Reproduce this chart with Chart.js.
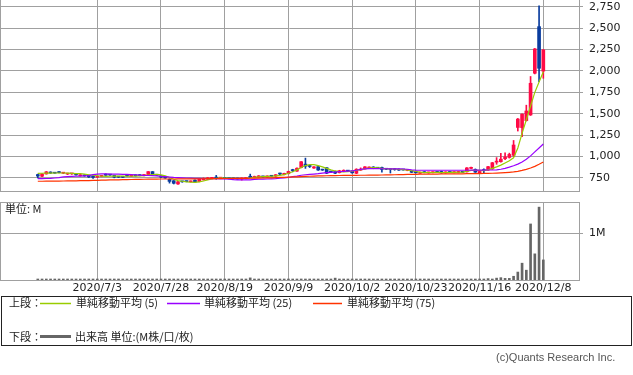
<!DOCTYPE html>
<html><head><meta charset="utf-8">
<script src="https://cdn.jsdelivr.net/npm/chart.js@4/dist/chart.umd.min.js"></script>
<style>
body{margin:0;background:#fff;width:633px;height:375px;position:relative;overflow:hidden;font-family:"Noto Sans CJK JP",sans-serif;}
canvas{position:absolute;left:0;}
#price{top:0;}
#vol{top:196px;}
.t{position:absolute;font-size:11px;color:#222;white-space:nowrap;line-height:11px;}
#legend{position:absolute;left:1px;top:296px;width:629px;height:48px;border:1px solid #222;}
</style></head><body>
<canvas id="price" width="633" height="192"></canvas>
<canvas id="vol" width="633" height="104"></canvas>
<div class="t" style="left:5px;top:203px">単位: M</div>
<div id="legend"></div>
<svg width="633" height="375" style="position:absolute;left:0;top:0">
<line x1="40" y1="303.5" x2="71" y2="303.5" stroke="#99cc00" stroke-width="1.5"/>
<line x1="167" y1="303.5" x2="200" y2="303.5" stroke="#9900ff" stroke-width="1.5"/>
<line x1="313" y1="303.5" x2="342" y2="303.5" stroke="#ff3300" stroke-width="1.5"/>
<line x1="40" y1="336.5" x2="71" y2="336.5" stroke="#666666" stroke-width="3"/>
</svg>
<div class="t" style="left:9px;top:297px">上段：</div>
<div class="t" style="left:76px;top:297px">単純移動平均 (5)</div>
<div class="t" style="left:204px;top:297px">単純移動平均 (25)</div>
<div class="t" style="left:347px;top:297px">単純移動平均 (75)</div>
<div class="t" style="left:9px;top:331px">下段：</div>
<div class="t" style="left:75px;top:331px">出来高 単位:(M株/口/枚)</div>
<div class="t" style="left:496px;top:352px;font-family:'Liberation Sans',sans-serif;color:#555">(c)Quants Research Inc.</div>
<script>
const dates = ['2020/6/15','2020/6/16','2020/6/17','2020/6/18','2020/6/19','2020/6/22','2020/6/23','2020/6/24','2020/6/25','2020/6/26',
'2020/6/29','2020/6/30','2020/7/1','2020/7/2','2020/7/3','2020/7/6','2020/7/7','2020/7/8','2020/7/9','2020/7/10',
'2020/7/13','2020/7/14','2020/7/15','2020/7/16','2020/7/17','2020/7/20','2020/7/21','2020/7/22','2020/7/27','2020/7/28',
'2020/7/29','2020/7/30','2020/7/31','2020/8/3','2020/8/4','2020/8/5','2020/8/6','2020/8/7','2020/8/11','2020/8/12',
'2020/8/13','2020/8/14','2020/8/17','2020/8/18','2020/8/19','2020/8/20','2020/8/21','2020/8/24','2020/8/25','2020/8/26',
'2020/8/27','2020/8/28','2020/8/31','2020/9/1','2020/9/2','2020/9/3','2020/9/4','2020/9/7','2020/9/8','2020/9/9',
'2020/9/10','2020/9/11','2020/9/14','2020/9/15','2020/9/16','2020/9/17','2020/9/18','2020/9/23','2020/9/24','2020/9/25',
'2020/9/28','2020/9/29','2020/9/30','2020/10/1','2020/10/2','2020/10/5','2020/10/6','2020/10/7','2020/10/8','2020/10/9',
'2020/10/12','2020/10/13','2020/10/14','2020/10/15','2020/10/16','2020/10/19','2020/10/20','2020/10/21','2020/10/22','2020/10/23',
'2020/10/26','2020/10/27','2020/10/28','2020/10/29','2020/10/30','2020/11/2','2020/11/4','2020/11/5','2020/11/6','2020/11/9',
'2020/11/10','2020/11/11','2020/11/12','2020/11/13','2020/11/16','2020/11/17','2020/11/18','2020/11/19','2020/11/20','2020/11/24',
'2020/11/25','2020/11/26','2020/11/27','2020/11/30','2020/12/1','2020/12/2','2020/12/3','2020/12/4','2020/12/7','2020/12/8'];
const tickDates = ['2020/7/3','2020/7/28','2020/8/19','2020/9/9','2020/10/2','2020/10/23','2020/11/16','2020/12/8'];
const priceTicks = [750,1000,1250,1500,1750,2000,2250,2500,2750];
const volTicks = [1];

const opens = [790,770,797,812,812,824,806,796,798,797, 776,785,780,770,760,768,795,790,780,765,
762,785,770,785,787,778,790,824,790,775, 765,735,718,680,710,712,705,725,708,728,
735,745,752,748,750,748,745,744,738,742, 770,755,760,770,762,775,772,800,790,800,
840,830,872,912,892,866,882,848,870,825, 826,812,826,835,832,805,842,856,866,878,
870,872,858,856,852,852,848,838,836,826, 806,820,810,812,820,826,810,820,812,814,
822,822,862,850,812,848,843,856,935,940, 975,990,1015,1340,1338,1420,1486,1973,2517,1998];
const highs = [795,800,826,822,815,826,812,805,803,800, 790,788,784,774,770,780,798,793,782,768,
766,788,782,787,790,790,826,826,792,778, 767,740,720,710,712,714,716,727,740,752,
756,758,780,755,752,750,750,748,752,756, 795,772,778,772,775,780,790,808,806,830,
852,868,942,982,900,884,885,852,873,828, 830,840,845,838,836,858,868,884,880,882,
874,876,862,862,860,856,852,848,840,830, 820,824,818,822,824,830,822,824,824,826,
826,872,878,856,830,856,885,932,988,1038, 1045,1040,1188,1445,1500,1600,1935,2262,2760,2250];
const lows = [750,765,795,800,805,808,800,790,792,783, 772,770,755,745,755,764,780,780,752,755,
754,770,768,772,775,775,788,788,778,755, 745,690,680,676,700,705,702,700,705,725,
730,740,735,744,740,738,736,735,725,738, 755,752,755,760,758,768,768,790,786,796,
822,826,868,862,872,862,838,838,800,815, 800,808,822,825,805,800,838,852,862,858,
860,818,848,808,840,838,840,834,812,808, 802,810,806,808,812,806,806,812,808,810,
812,818,858,815,800,812,838,850,910,935, 965,982,1000,1298,1232,1415,1480,1965,1875,1914];
const closes = [772,795,822,808,806,812,810,803,800,786, 786,774,762,757,766,778,782,784,760,760,
758,773,780,775,777,788,824,792,782,760, 750,710,688,706,705,708,712,702,736,745,
752,752,748,752,745,742,740,738,748,750, 758,768,775,762,772,770,788,796,804,826,
836,864,940,888,884,880,843,842,806,820, 806,834,840,830,810,852,850,880,874,862,
864,850,852,848,848,842,844,846,816,810, 816,812,816,818,814,810,818,814,822,820,
816,868,874,818,826,836,882,928,945,970, 995,1025,1135,1438,1494,1532,1856,2257,2031,2245];
const volumes = [0.012,0.010,0.015,0.010,0.008,0.012,0.009,0.010,0.008,0.010, 0.009,0.010,0.012,0.010,0.009,0.010,0.012,0.009,0.011,0.008,
0.009,0.010,0.008,0.010,0.009,0.010,0.016,0.014,0.010,0.010, 0.012,0.018,0.016,0.014,0.010,0.009,0.010,0.010,0.012,0.012,
0.012,0.010,0.012,0.010,0.010,0.009,0.008,0.009,0.010,0.012, 0.045,0.014,0.012,0.010,0.010,0.009,0.010,0.010,0.012,0.014,
0.015,0.016,0.022,0.020,0.014,0.012,0.012,0.010,0.014,0.010, 0.040,0.012,0.010,0.008,0.012,0.014,0.012,0.012,0.010,0.010,
0.010,0.012,0.010,0.012,0.009,0.010,0.009,0.010,0.010,0.010, 0.009,0.008,0.009,0.010,0.009,0.010,0.009,0.008,0.010,0.009,
0.009,0.014,0.012,0.010,0.010,0.015,0.030,0.020,0.040,0.050, 0.035,0.035,0.080,0.170,0.360,0.210,1.200,0.560,1.560,0.430];
const ma5 = [804,805,806,806,808,808,808,806,804,802, 800,795,788,782,776,770,768,770,772,773,
772,770,770,772,775,778,784,790,792,786, 775,755,735,720,712,705,700,698,705,715,
728,738,745,748,748,747,745,743,744,746, 750,756,762,766,768,770,774,780,790,805,
822,845,872,895,905,905,895,880,862,845, 832,825,822,825,830,838,848,858,866,870,
868,862,858,856,855,852,848,844,835,826, 818,814,813,814,815,814,814,815,816,817,
818,828,838,840,838,836,845,862,880,900, 925,950,985,1100,1270,1430,1590,1750,1870,1990];
const ma25 = [742,743,744,745,750,755,762,766,768,770, 772,775,778,790,795,797,797,796,795,794,
793,792,790,788,783,780,779,778,774,768, 765,760,756,754,752,750,748,746,745,744,
743,742,741,740,738,735,730,728,728,728, 729,733,735,737,738,740,742,748,752,756,
765,772,782,788,792,796,800,806,812,816, 820,824,826,830,834,840,850,857,859,859,
859,858,858,857,857,856,855,852,846,842, 840,840,840,840,840,840,840,840,840,840,
840,840,841,842,842,842,843,843,845,852, 862,876,893,912,936,968,1008,1055,1100,1147];
const ma75 = [712,712,713,713,714,714,715,716,716,717, 718,719,720,721,722,724,726,727,728,729,
730,731,732,733,734,735,736,737,737,738, 738,738,738,739,739,739,740,740,741,741,
742,742,743,743,744,744,745,745,746,746, 747,748,749,750,751,752,754,756,758,760,
762,764,766,768,770,772,774,775,776,777, 778,779,780,780,781,781,782,782,783,783,
784,785,786,787,788,789,790,791,792,793, 794,795,795,796,796,797,797,798,798,799,
799,800,800,801,802,803,804,805,807,809, 812,816,821,828,838,850,866,886,910,937];

const UP = '#ff0a46', DOWN = '#0a3c9e', GRID = '#a0a0a0';
const XMIN = -8.9, XMAX = 127.4;
const tickIdx = tickDates.map(d => dates.indexOf(d));
const cols = closes.map((c, i) => c >= opens[i] ? UP : DOWN);

Chart.defaults.font.family = "'DejaVu Sans', sans-serif";
Chart.defaults.font.size = 11;
Chart.defaults.color = '#222';
Chart.defaults.animation = false;

const frame = {
  id: 'frame',
  afterDraw(chart, args, opts) {
    const {ctx, chartArea: a} = chart;
    ctx.save(); ctx.strokeStyle = GRID; ctx.lineWidth = 1; ctx.beginPath();
    ctx.moveTo(a.left + 0.5, a.top); ctx.lineTo(a.left + 0.5, a.bottom);
    if (opts.top) { ctx.moveTo(a.left, a.top + 0.5); ctx.lineTo(a.right, a.top + 0.5); }
    ctx.stroke(); ctx.restore();
  }
};

function xAxis(show) {
  return {
    type: 'linear', min: XMIN, max: XMAX, offset: false,
    afterBuildTicks: s => { s.ticks = tickIdx.map(v => ({value: v})); },
    afterFit: s => { s.height = show ? 20 : 1; s.paddingLeft = 0; s.paddingRight = 0; },
    grid: {color: GRID, drawTicks: false, offset: false},
    border: {display: true, color: GRID},
    ticks: {display: show, autoSkip: false, maxRotation: 0, minRotation: 0, padding: 2, callback: v => dates[v]}
  };
}
function yAxis(min, max, ticks, fmt) {
  return {
    position: 'right', min, max,
    afterBuildTicks: s => { s.ticks = ticks.map(v => ({value: v})); },
    afterFit: s => { s.width = 54; s.paddingTop = 0; s.paddingBottom = 0; },
    grid: {color: GRID, tickLength: 4},
    border: {display: true, color: GRID},
    ticks: {padding: 6, callback: fmt}
  };
}
const pts = arr => arr.map((v, i) => ({x: i, y: v}));

new Chart(document.getElementById('price'), {
  type: 'bar',
  data: { datasets: [
    {type: 'line', data: pts(ma75), borderColor: '#ff3300', borderWidth: 1.2, pointRadius: 0, order: 1},
    {type: 'line', data: pts(ma25), borderColor: '#9900ff', borderWidth: 1.2, pointRadius: 0, order: 1},
    {type: 'line', data: pts(ma5), borderColor: '#99cc00', borderWidth: 1.2, pointRadius: 0, order: 1},
    {data: lows.map((l, i) => ({x: i, y: [l, highs[i]]})), backgroundColor: cols, barThickness: 1, grouped: false, order: 3},
    {data: opens.map((o, i) => ({x: i, y: [o, closes[i]]})), backgroundColor: cols, barThickness: 3, minBarLength: 1, grouped: false, order: 2}
  ]},
  options: {
    responsive: false, devicePixelRatio: 1,
    layout: {padding: 0},
    plugins: {legend: {display: false}, tooltip: {enabled: false}, frame: {top: false}},
    scales: {
      x: xAxis(false),
      y: yAxis(598, 2828, priceTicks, v => v.toLocaleString('en-US'))
    }
  },
  plugins: [frame]
});

new Chart(document.getElementById('vol'), {
  type: 'bar',
  data: { datasets: [
    {data: pts(volumes), backgroundColor: '#666666', barThickness: 2, minBarLength: 1}
  ]},
  options: {
    responsive: false, devicePixelRatio: 1,
    layout: {padding: {top: 6}},
    plugins: {legend: {display: false}, tooltip: {enabled: false}, frame: {top: true}},
    scales: {
      x: xAxis(true),
      y: yAxis(0, 1.67, volTicks, v => v + 'M')
    }
  },
  plugins: [frame]
});
</script>
</body></html>
